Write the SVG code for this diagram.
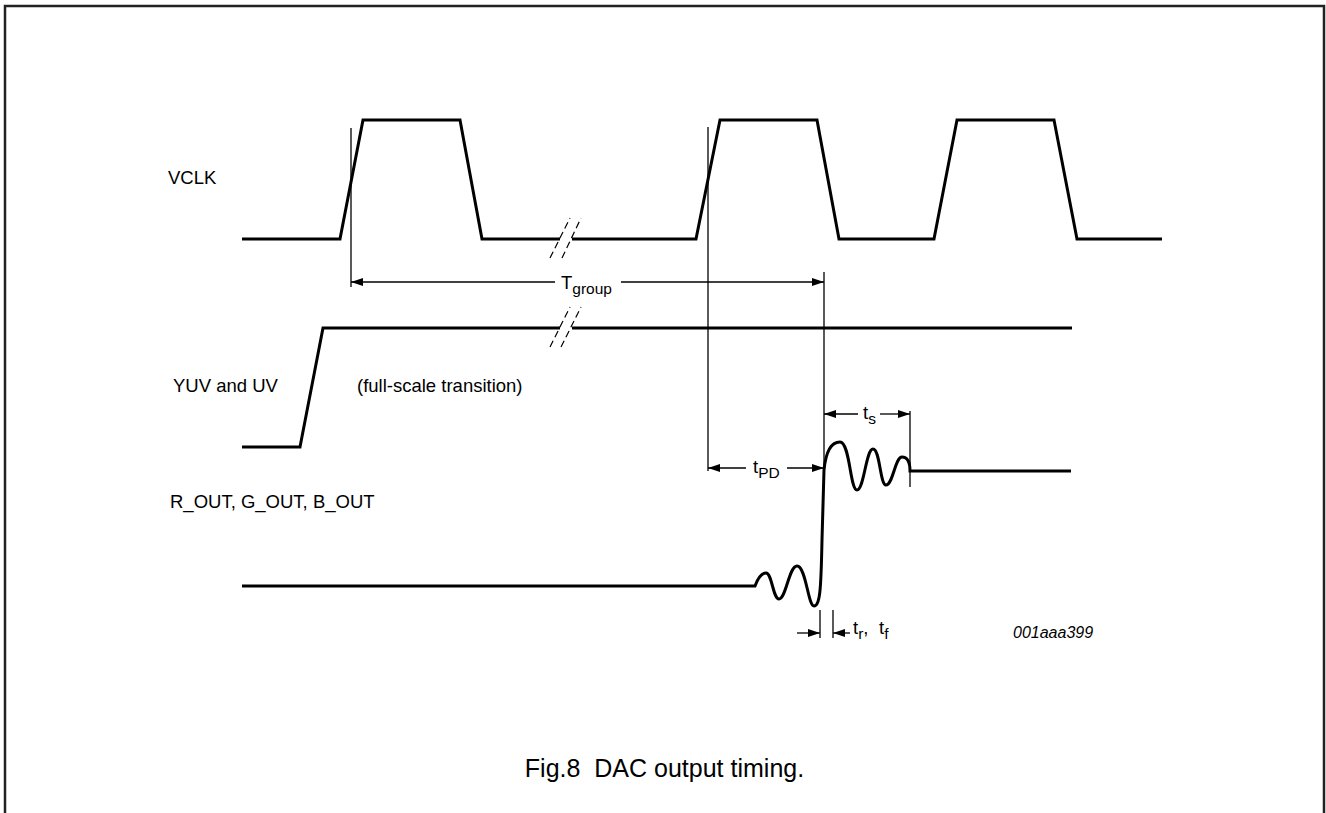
<svg xmlns="http://www.w3.org/2000/svg" width="1326" height="813" viewBox="0 0 1326 813">
<style>
.sig{fill:none;stroke:#000;stroke-width:3;stroke-linejoin:miter}
.thin{fill:none;stroke:#000;stroke-width:1.3}
.brk{fill:none;stroke:#000;stroke-width:1.2;stroke-dasharray:7,4}
.lbl{font-family:"Liberation Sans",Arial,sans-serif;font-size:18.5px;fill:#000}
.sub{font-size:15.5px}
</style>
<defs>
<marker id="ah" viewBox="0 0 12 8" refX="12" refY="4" markerWidth="12" markerHeight="8" markerUnits="userSpaceOnUse" orient="auto">
<path d="M0,0 L12,4 L0,8 Z" fill="#000"/>
</marker>
</defs>
<rect width="1326" height="813" fill="#fff"/>
<path d="M5,815 V6 H1324 V815" fill="none" stroke="#222" stroke-width="2.5"/>

<g id="vclk">
<text class="lbl" x="168" y="184">VCLK</text>
<path class="sig" d="M242,239 H340 L363,120 H460 L482,239 H560"/>
<path class="sig" d="M572,239 H696 L720,120 H817 L839,239 H934 L957,120 H1054 L1077,239 H1162"/>
<path class="brk" d="M550,258 L570,218 M562,258 L581,218"/>
</g>

<g id="yuv">
<text class="lbl" x="173" y="392">YUV and UV</text>
<text class="lbl" x="357" y="392">(full-scale transition)</text>
<path class="sig" d="M242,447 H300 L323,328 H560"/>
<path class="sig" d="M572,328 H1072"/>
<path class="brk" d="M550,347 L570,307 M561,347 L581,307"/>
</g>

<g id="rout">
<text class="lbl" x="170" y="508">R_OUT, G_OUT, B_OUT</text>
<path class="sig" d="M242,586 L755,586 C758,578 762,573 766,573 C772,573 773,599 779,599 C786,599 789,566 797,566 C806,566 808,606 814,606 C820,606 821,590 822,540 L824,470 C826,450 832,442 840,442 C850,442 850,490 857,490 C864,490 866,449 873,449 C880,449 880,485 886,485 C893,485 895,457 902,457 C907,457 910,462 910,471 L1071,471"/>
</g>

<g id="connectors">
<line class="thin" x1="351" y1="128" x2="351" y2="287"/>
<line class="thin" x1="708" y1="127" x2="708" y2="471"/>
<line class="thin" x1="824" y1="272" x2="824" y2="478"/>
<line class="thin" x1="910" y1="411" x2="910" y2="487"/>
<line class="thin" x1="820" y1="610" x2="820" y2="638"/>
<line class="thin" x1="833" y1="610" x2="833" y2="638"/>
<line class="thin" x1="555" y1="282" x2="351" y2="282" marker-end="url(#ah)"/>
<line class="thin" x1="621" y1="282" x2="824" y2="282" marker-end="url(#ah)"/>
<line class="thin" x1="746" y1="468" x2="708" y2="468" marker-end="url(#ah)"/>
<line class="thin" x1="787" y1="468" x2="824" y2="468" marker-end="url(#ah)"/>
<line class="thin" x1="858" y1="414" x2="824" y2="414" marker-end="url(#ah)"/>
<line class="thin" x1="880" y1="414" x2="910" y2="414" marker-end="url(#ah)"/>
<line class="thin" x1="797" y1="633" x2="820" y2="633" marker-end="url(#ah)"/>
<line class="thin" x1="850" y1="633" x2="833" y2="633" marker-end="url(#ah)"/>
</g>

<g id="labels">
<text class="lbl" x="561" y="289">T<tspan class="sub" dy="5">group</tspan></text>
<text class="lbl" x="753" y="473">t<tspan class="sub" dy="5">PD</tspan></text>
<text class="lbl" x="863" y="419">t<tspan class="sub" dy="5">s</tspan></text>
<text class="lbl" x="853" y="634">t<tspan class="sub" dy="5">r</tspan><tspan dy="-5">,</tspan><tspan x="879">t</tspan><tspan class="sub" dy="5">f</tspan></text>
<text class="lbl" x="1013" y="638" style="font-style:italic;font-size:16px">001aaa399</text>
<text class="lbl" x="664.5" y="777" text-anchor="middle" style="font-size:25px" xml:space="preserve">Fig.8  DAC output timing.</text>
</g>
</svg>
